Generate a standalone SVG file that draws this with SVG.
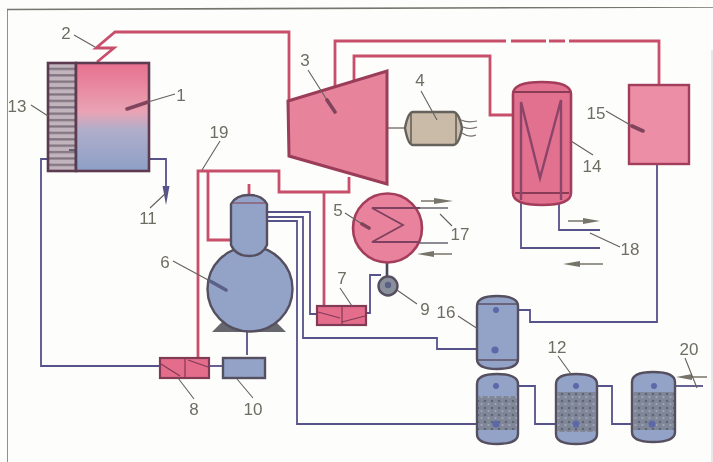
<svg xmlns="http://www.w3.org/2000/svg" width="713" height="462" viewBox="0 0 713 462">
<style>
.lbl{font-family:"Liberation Sans",Arial,sans-serif;font-size:17px;fill:#6e6d62;text-anchor:middle}
.red{fill:none;stroke:#c8506c;stroke-width:2.8;stroke-linejoin:miter}
.blu{fill:none;stroke:#55528a;stroke-width:1.8}
.ldr{fill:none;stroke:#66605c;stroke-width:1.1}
.thk{fill:none;stroke:#80455c;stroke-width:3.6;stroke-linecap:round}
.thb{fill:none;stroke:#5a6088;stroke-width:3.6;stroke-linecap:round}
.pk{fill:#e2708f;stroke:#a33e5c;stroke-width:2.6}
.bv{fill:#93a3c8;stroke:#55505f;stroke-width:2.4}
.ar{fill:none;stroke:#77756a;stroke-width:1.4}
.arh{fill:#77756a}
.coil{fill:none;stroke:#8a4468;stroke-width:2.4}
.inner{fill:none;stroke:#5a5264;stroke-width:1.4}
.dot{fill:#5c68a8}
</style>
<defs>
<linearGradient id="boil" x1="0" y1="0" x2="0" y2="1">
<stop offset="0" stop-color="#e8708e"/><stop offset="0.45" stop-color="#e9a3b4"/><stop offset="0.62" stop-color="#b0aecb"/><stop offset="1" stop-color="#8d9fc6"/>
</linearGradient>
<pattern id="hatch" width="8" height="6.4" patternUnits="userSpaceOnUse">
<rect width="8" height="6.4" fill="#c2b4bc"/><rect y="3.8" width="8" height="2.2" fill="#7e7280"/>
</pattern>
<pattern id="grain" width="7" height="7" patternUnits="userSpaceOnUse">
<rect width="7" height="7" fill="#7f8799"/><circle cx="2" cy="2" r="1.3" fill="#5f6577"/><circle cx="5.5" cy="5" r="1.1" fill="#a2a8b8"/>
</pattern>
<filter id="soft" x="0" y="0" width="100%" height="100%"><feGaussianBlur stdDeviation="0.6"/></filter>
</defs>
<rect width="713" height="462" fill="#fdfdfc"/>
<g filter="url(#soft)">
<g id="frame" fill="none" stroke="#77766e" stroke-width="1.6">
<path d="M7 462V9.5L713 7"/>
<path d="M712 50V462" stroke="#e4e4e0"/>
</g>
<g id="connectors">
<path class="red" d="M97 62L114 48H96L115 32H289V101"/>
<path class="red" d="M335 92V41H506M511 41H546M549 41H565M569 41H659V85"/>
<path class="red" d="M354 82V56H490V115H513"/>
<path class="red" d="M198 358V171H279V192H349V177"/>
<path class="red" d="M208 171V240H231"/>
<path class="red" d="M324 192V307"/>
<path class="red" d="M249 184V196" stroke-width="2"/>
<path class="blu" d="M160 366H41V159H49"/>
<path class="blu" d="M149 159H166V186"/>
<path class="blu" d="M209 366H223"/>
<path class="blu" d="M247 331V355" stroke-width="2"/>
<path class="blu" d="M267 212H310V314H317"/>
<path class="blu" d="M267 217H303V338H437V349H478"/>
<path class="blu" d="M267 221H297V424H478"/>
<path class="blu" d="M366 313H370V275H381"/>
<path d="M387 262V280" fill="none" stroke="#4a4658" stroke-width="2.6"/>
<path class="blu" d="M657 164V322H530V310H497"/>
<path class="blu" d="M521 200V248H600"/>
<path class="blu" d="M559 200V230H600"/>
<path class="blu" d="M497 386H535V424H556"/>
<path class="blu" d="M577 386H612V424H633"/>
<path class="blu" d="M675 386H703"/>
<path d="M387 128H405" fill="none" stroke="#77706a" stroke-width="1.4"/>
<path d="M420 208H448M420 243H448" fill="none" stroke="#6a6670" stroke-width="1.4"/>
</g>
<g id="n13"><rect x="48" y="63" width="28" height="108" fill="url(#hatch)" stroke="#5a3b50" stroke-width="2.6"/></g>
<g id="n1"><rect x="76" y="63" width="73" height="108" fill="url(#boil)" stroke="#5f3a50" stroke-width="2.6"/>
<path d="M69 150H76V168" fill="none" stroke="#4a4458" stroke-width="1.6"/></g>
<g id="n3"><polygon points="288,101 387,71 387,184 289,156" fill="#e8839c" stroke="#9a3c58" stroke-width="3"/></g>
<g id="n4"><path d="M413 112H453Q459 112 462 128Q459 145 453 145H413Q408 145 405 128Q408 112 413 112Z" fill="#c9bba8" stroke="#65625c" stroke-width="2.4"/>
<path d="M411 114V143M456 114V143" fill="none" stroke="#65625c" stroke-width="1.6"/>
<path d="M461 120Q468 123 477 121M463 127Q470 130 477 127M462 133Q469 138 476 135" fill="none" stroke="#77706a" stroke-width="1.2"/></g>
<g id="n14"><path class="pk" d="M513 94Q513 82 542 82Q571 82 571 94V193Q571 205 542 205Q513 205 513 193Z"/>
<path d="M514 92H570" fill="none" stroke="#8a3a55" stroke-width="1.8"/>
<path d="M515 193H569" fill="none" stroke="#8a3a55" stroke-width="1.8"/>
<path class="coil" d="M521 200V102L540 178L561 100V200"/></g>
<g id="n15"><rect x="629" y="85" width="60" height="79" fill="#ec8ea6" stroke="#a33e5c" stroke-width="2.4"/></g>
<g id="n6"><path d="M212 332L222 322H276L286 332Z" fill="#66686e"/>
<circle cx="250" cy="289" r="42.5" class="bv"/>
<path class="bv" d="M231 204Q236 195 249 195Q262 195 267 204V245Q262 256 249 256Q236 256 231 245Z" stroke-width="2.6"/>
<path d="M233 203H265" fill="none" stroke="#8a5a70" stroke-width="1.4"/></g>
<g id="n5"><circle cx="387.5" cy="228" r="34.5" fill="#e9829c" stroke="#a33e5c" stroke-width="2.6"/>
<path d="M420 208H372L403 225L372 242H420" fill="none" stroke="#80405f" stroke-width="1.8"/></g>
<g id="n7"><rect x="317" y="306" width="49" height="19" fill="#e56d8c" stroke="#813a55" stroke-width="2.2"/>
<path d="M342 306V325M318 312L340 318M342 322L365 316" fill="none" stroke="#813a55" stroke-width="1.2"/></g>
<g id="n8"><rect x="160" y="358" width="49" height="20" fill="#e56d8c" stroke="#813a55" stroke-width="2.2"/>
<path d="M185 358V378M161 364L180 376M188 360L208 367" fill="none" stroke="#813a55" stroke-width="1.2"/></g>
<g id="n9"><circle cx="388" cy="286" r="9.5" fill="#8a8f9c" stroke="#55505f" stroke-width="2.4"/><circle cx="388" cy="285" r="3.2" fill="#5a6088"/></g>
<g id="n10"><rect x="223" y="358" width="42" height="20" fill="#93a3c8" stroke="#55505f" stroke-width="2.4"/></g>
<g id="n16"><path class="bv" d="M477 306Q477 296 497 296Q518 296 518 306V359Q518 369 497 369Q477 369 477 359Z"/>
<path class="inner" d="M478 304H517M478 360H517"/>
<circle class="dot" cx="496" cy="310" r="3"/><circle class="dot" cx="495" cy="350" r="3.6"/></g>
<g id="filterA"><path d="M477 384Q477 374 497 374Q518 374 518 384V434Q518 444 497 444Q477 444 477 434Z" fill="#93a3c8" stroke="#55505f" stroke-width="2.4"/>
<rect x="478" y="396" width="39" height="34" fill="url(#grain)"/>
<circle class="dot" cx="496" cy="386" r="3"/><circle class="dot" cx="496" cy="424" r="3.6"/></g>
<g id="n12"><path d="M556 384Q556 374 576 374Q597 374 597 384V434Q597 444 576 444Q556 444 556 434Z" fill="#93a3c8" stroke="#55505f" stroke-width="2.4"/>
<rect x="557" y="392" width="39" height="40" fill="url(#grain)"/>
<circle class="dot" cx="576" cy="386" r="3"/><circle class="dot" cx="576" cy="424" r="3.6"/></g>
<g id="filterC"><path d="M632 382Q632 372 653 372Q675 372 675 382V432Q675 442 653 442Q632 442 632 432Z" fill="#93a3c8" stroke="#55505f" stroke-width="2.4"/>
<rect x="633" y="392" width="41" height="38" fill="url(#grain)"/>
<circle class="dot" cx="654" cy="386" r="3"/><circle class="dot" cx="652" cy="424" r="3.6"/></g>
<g id="flows">
<path d="M162.500 186L169.500 186L166 205Z" fill="#55528a"/>
<path class="ar" d="M421 201H440M452 254H432M568 221H590M603 264H580M707 377H690"/>
<path class="arh" d="M453 201L434 198V204ZM417 254L434 251V257ZM600 221L583 218V224ZM563 264L580 261V267ZM676 377L692 374V380Z"/>
</g>
<g id="leaders">
<path class="ldr" d="M74 35L95 47M308 70L327 100M421 91L437 120M175 94L148 102M31 105L48 116M220 141L202 170M150 208L166 193M345 213L362 224M173 261L210 281M340 288L352 306M178 378L194 399M237 379L253 398M397 290L417 304M458 316L478 329M558 356L571 374M685 358L697 388M571 141L593 155M606 111L632 126M440 214L452 226M590 233L620 247"/>
<path class="thk" d="M327 100L335 112M148 102L127 109M632 126L643 131M362 224L369 228"/>
<path class="thb" d="M210 281L226 290"/>
</g>
<g id="labels">
<text class="lbl" x="66" y="39">2</text>
<text class="lbl" x="181" y="101">1</text>
<text class="lbl" x="305" y="66">3</text>
<text class="lbl" x="420" y="86">4</text>
<text class="lbl" x="17" y="112">13</text>
<text class="lbl" x="219" y="138">19</text>
<text class="lbl" x="148" y="224">11</text>
<text class="lbl" x="338" y="216">5</text>
<text class="lbl" x="165" y="268">6</text>
<text class="lbl" x="342" y="284">7</text>
<text class="lbl" x="194" y="415">8</text>
<text class="lbl" x="253" y="415">10</text>
<text class="lbl" x="425" y="315">9</text>
<text class="lbl" x="446" y="318">16</text>
<text class="lbl" x="557" y="353">12</text>
<text class="lbl" x="689" y="355">20</text>
<text class="lbl" x="592" y="172">14</text>
<text class="lbl" x="596" y="119">15</text>
<text class="lbl" x="460" y="240">17</text>
<text class="lbl" x="630" y="255">18</text>
</g>
</g>
</svg>
